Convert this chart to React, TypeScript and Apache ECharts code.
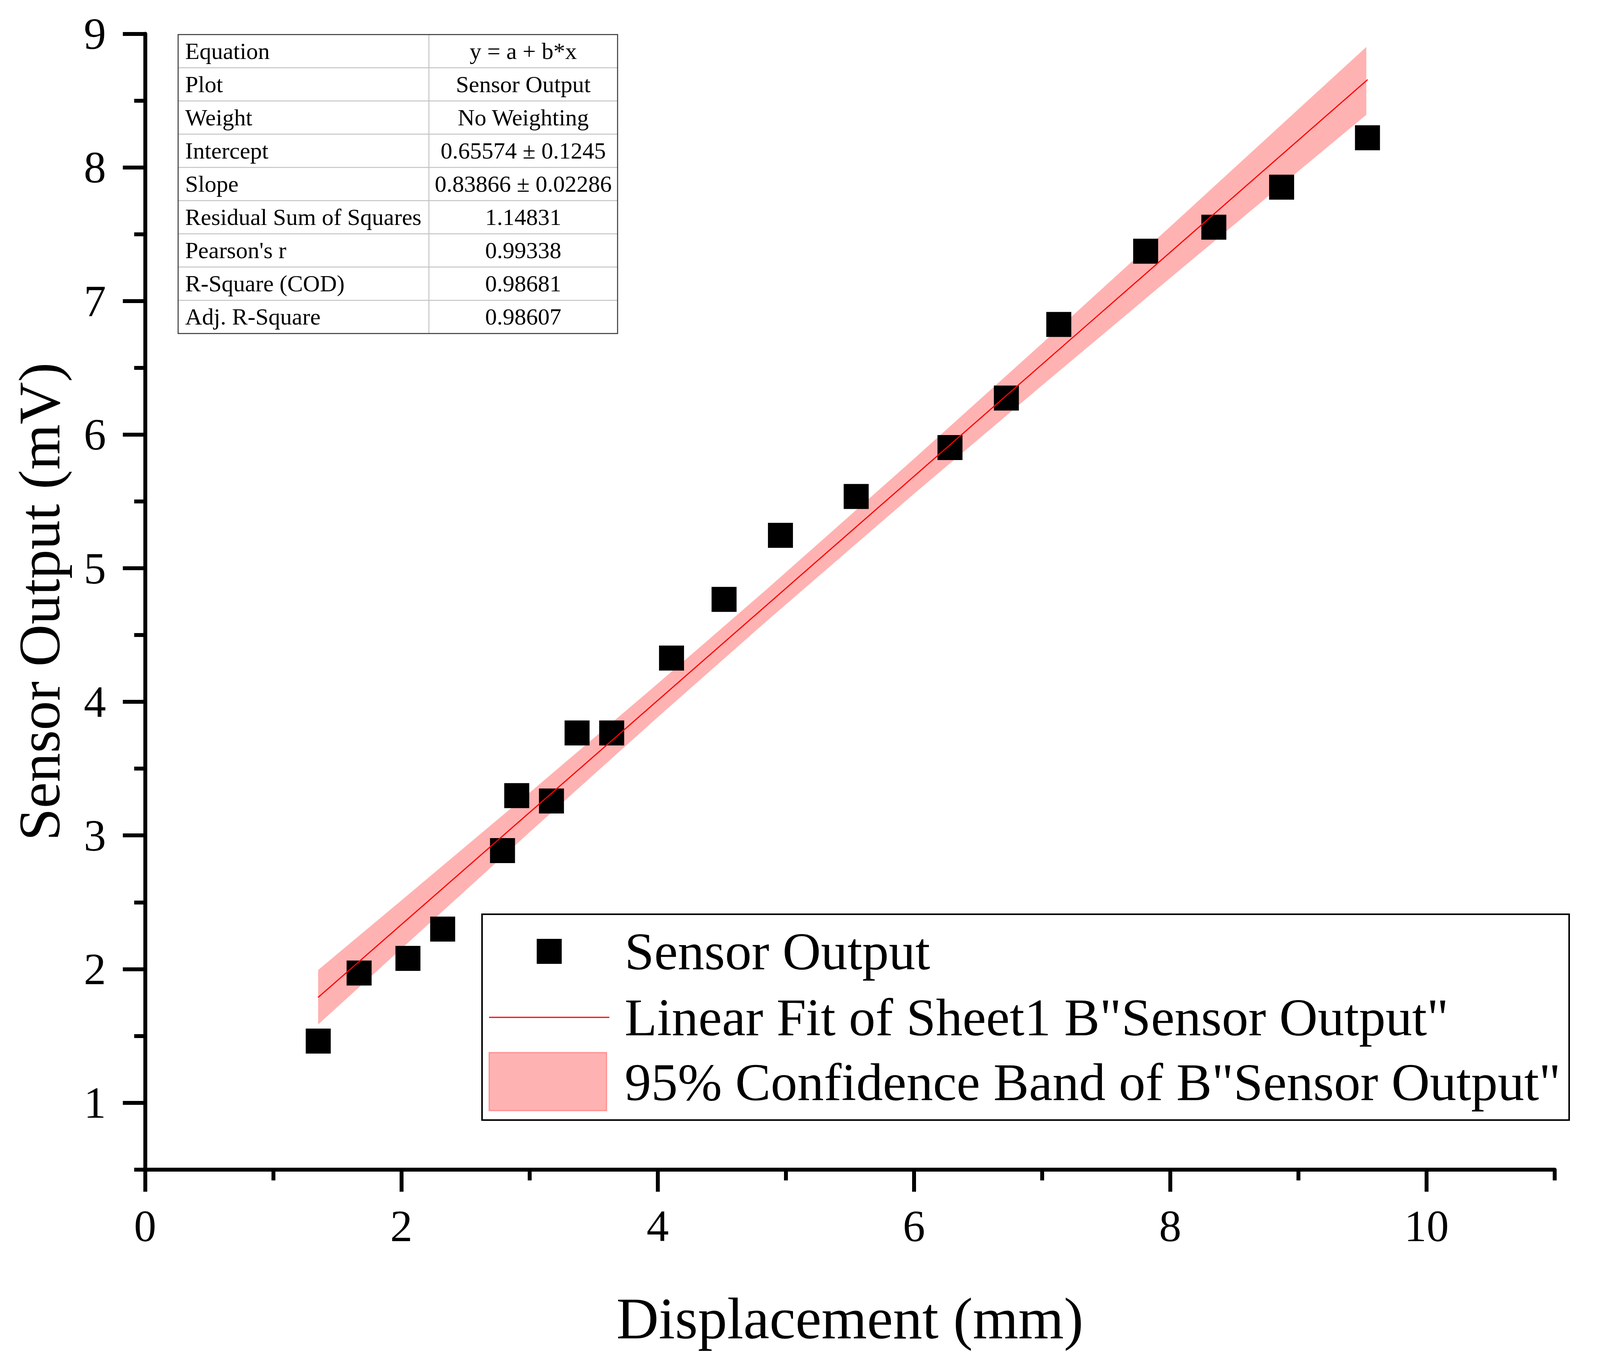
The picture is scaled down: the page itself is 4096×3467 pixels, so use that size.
import React, { useEffect, useRef } from "react";
import * as echarts from "echarts";

// ---- Data ----
const displacement = [1.351, 1.67, 2.051, 2.322, 2.789, 2.9, 3.171, 3.371, 3.641, 4.108, 4.518, 4.958, 5.549, 6.281, 6.721, 7.13, 7.808, 8.34, 8.869, 9.539];
const sensorOutput = [1.461, 1.97, 2.08, 2.299, 2.887, 3.298, 3.258, 3.767, 3.767, 4.328, 4.767, 5.246, 5.537, 5.903, 6.274, 6.825, 7.373, 7.553, 7.852, 8.222];

const fitX = [1.35, 9.54];
const fitY = [1.788, 8.657];

const bandX = [1.35, 2, 3, 4, 4.85, 6, 7, 8, 9, 9.53];
const bandLower = [1.585, 2.152, 3.024, 3.885, 4.604, 5.557, 6.369, 7.173, 7.972, 8.394];
const bandUpper = [1.993, 2.514, 3.32, 4.136, 4.842, 5.819, 6.683, 7.557, 8.436, 8.902];

const xMajorTicks = [0, 2, 4, 6, 8, 10];
const xMinorTicks = [1, 3, 5, 7, 9, 11];
const yMajorTicks = [1, 2, 3, 4, 5, 6, 7, 8, 9];
const yMinorTicks = [0.5, 1.5, 2.5, 3.5, 4.5, 5.5, 6.5, 7.5, 8.5];

const tableLabels = ["Equation", "Plot", "Weight", "Intercept", "Slope", "Residual Sum of Squares", "Pearson's r", "R-Square (COD)", "Adj. R-Square"];
const tableValues = ["y = a + b*x", "Sensor Output", "No Weighting", "0.65574 \u00b1 0.1245", "0.83866 \u00b1 0.02286", "1.14831", "0.99338", "0.98681", "0.98607"];

const legendLabels = ["Sensor Output", 'Linear Fit of Sheet1 B"Sensor Output"', '95% Confidence Band of B"Sensor Output"'];

const xTitle = "Displacement (mm)";
const yTitle = "Sensor Output (mV)";

const FONT = '"Liberation Serif", "Times New Roman", serif';
const BAND_FILL = "rgba(255,0,0,0.3)";

export default function App() {
  const ref = useRef<HTMLDivElement>(null);

  useEffect(() => {
    document.body.style.margin = "0";
    if (!ref.current) return;
    const chart = echarts.init(ref.current, undefined, { renderer: "svg" });

    // Table graphic
    const tL = 456, tR = 1581, tT = 88.4, tB = 854, tDiv = 1098;
    const rowH = (tB - tT) / tableLabels.length;
    const tableChildren: any[] = [];
    for (let i = 1; i < tableLabels.length; i++) {
      tableChildren.push({
        type: "line",
        shape: { x1: tL, y1: tT + i * rowH, x2: tR, y2: tT + i * rowH },
        style: { stroke: "#c4c4c4", lineWidth: 2.5 },
      });
    }
    tableChildren.push({
      type: "line",
      shape: { x1: tDiv, y1: tT, x2: tDiv, y2: tB },
      style: { stroke: "#c4c4c4", lineWidth: 2.5 },
    });
    tableChildren.push({
      type: "rect",
      shape: { x: tL, y: tT, width: tR - tL, height: tB - tT },
      style: { fill: "none", stroke: "#333", lineWidth: 2.5 },
    });
    tableLabels.forEach((lab, i) => {
      const cy = tT + (i + 0.5) * rowH;
      tableChildren.push({
        type: "text",
        style: { text: lab, x: tL + 18, y: cy, fontSize: 60, fontFamily: FONT, fill: "#000", align: "left", verticalAlign: "middle" },
      });
      tableChildren.push({
        type: "text",
        style: { text: tableValues[i], x: (tDiv + tR) / 2, y: cy, fontSize: 60, fontFamily: FONT, fill: "#000", align: "center", verticalAlign: "middle" },
      });
    });

    // Legend graphic
    const lL = 1234, lR = 4017, lT = 2341, lB = 2868;
    const rowY = [2436, 2605, 2771];
    const legendChildren: any[] = [
      { type: "rect", shape: { x: lL, y: lT, width: lR - lL, height: lB - lT }, style: { fill: "#fff", stroke: "#000", lineWidth: 4 } },
      { type: "rect", shape: { x: 1406 - 32, y: rowY[0] - 32, width: 64, height: 64 }, style: { fill: "#000" } },
      { type: "line", shape: { x1: 1252, y1: rowY[1], x2: 1560, y2: rowY[1] }, style: { stroke: "#ff0000", lineWidth: 3 } },
      { type: "rect", shape: { x: 1252, y: 2695, width: 301, height: 149 }, style: { fill: BAND_FILL, stroke: "rgba(255,0,0,0.3)", lineWidth: 3 } },
    ];
    legendLabels.forEach((lab, i) => {
      legendChildren.push({
        type: "text",
        style: { text: lab, x: 1599, y: rowY[i], fontSize: 136, fontFamily: FONT, fill: "#000", align: "left", verticalAlign: "middle" },
      });
    });

    const axisLineStyle = { color: "#000", width: 10 };

    chart.setOption({
      animation: false,
      backgroundColor: "#fff",
      grid: { left: 371.5, right: 116, top: 86.6, bottom: 472.5, containLabel: false },
      xAxis: [
        {
          type: "value",
          min: 0,
          max: 11,
          position: "bottom",
          name: xTitle,
          nameLocation: "middle",
          nameGap: 306,
          nameTextStyle: { fontSize: 150, fontFamily: FONT, color: "#000" },
          axisLine: { show: true, onZero: false, lineStyle: axisLineStyle },
          axisTick: { show: true, customValues: xMajorTicks, length: 57, lineStyle: axisLineStyle },
          axisLabel: { show: true, customValues: xMajorTicks, margin: 88, fontSize: 114, fontFamily: FONT, color: "#000" },
          splitLine: { show: false },
        },
        {
          type: "value",
          min: 0,
          max: 11,
          position: "bottom",
          axisLine: { show: false, onZero: false },
          axisTick: { show: true, customValues: xMinorTicks, length: 28, lineStyle: axisLineStyle },
          axisLabel: { show: false },
          splitLine: { show: false },
        },
      ],
      yAxis: [
        {
          type: "value",
          min: 0.5,
          max: 9,
          position: "left",
          name: yTitle,
          nameLocation: "middle",
          nameGap: 196,
          nameRotate: 90,
          nameTextStyle: { fontSize: 150, fontFamily: FONT, color: "#000" },
          axisLine: { show: true, onZero: false, lineStyle: axisLineStyle },
          axisTick: { show: true, customValues: yMajorTicks, length: 57, lineStyle: axisLineStyle },
          axisLabel: { show: true, customValues: yMajorTicks, margin: 100, fontSize: 114, fontFamily: FONT, color: "#000" },
          splitLine: { show: false },
        },
        {
          type: "value",
          min: 0.5,
          max: 9,
          position: "left",
          axisLine: { show: false, onZero: false },
          axisTick: { show: true, customValues: yMinorTicks, length: 28, lineStyle: axisLineStyle },
          axisLabel: { show: false },
          splitLine: { show: false },
        },
      ],
      series: [
        {
          name: legendLabels[0],
          type: "scatter",
          xAxisIndex: 0,
          yAxisIndex: 0,
          symbol: "rect",
          symbolSize: 64,
          itemStyle: { color: "#000", opacity: 1 },
          data: displacement.map((x, i) => [x, sensorOutput[i]]),
        },
        {
          name: legendLabels[2],
          type: "custom",
          xAxisIndex: 0,
          yAxisIndex: 0,
          silent: true,
          data: [[bandX[0], bandLower[0]]],
          renderItem: (params: any, api: any) => {
            const pts: number[][] = [];
            for (let i = 0; i < bandX.length; i++) pts.push(api.coord([bandX[i], bandUpper[i]]));
            for (let i = bandX.length - 1; i >= 0; i--) pts.push(api.coord([bandX[i], bandLower[i]]));
            return { type: "polygon", shape: { points: pts }, style: { fill: BAND_FILL } };
          },
        },
        {
          name: legendLabels[1],
          type: "line",
          xAxisIndex: 0,
          yAxisIndex: 0,
          showSymbol: false,
          symbol: "none",
          lineStyle: { color: "#ff0000", width: 3 },
          data: fitX.map((x, i) => [x, fitY[i]]),
        },
      ],
      graphic: [
        { type: "group", children: tableChildren },
        { type: "group", children: legendChildren },
      ],
    });

    return () => chart.dispose();
  }, []);

  return <div ref={ref} style={{ position: "absolute", left: 0, top: 0, width: 4096, height: 3467 }} />;
}
